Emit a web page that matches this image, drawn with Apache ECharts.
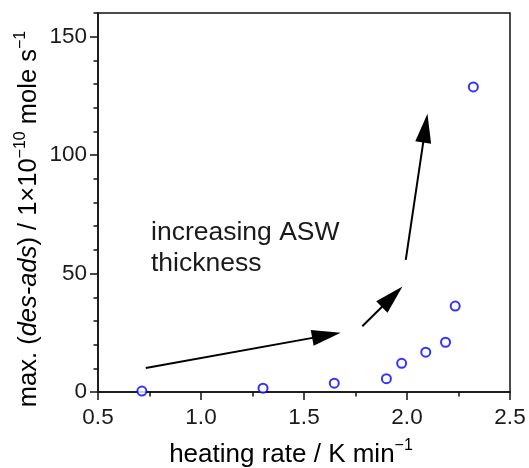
<!DOCTYPE html>
<html><head><meta charset="utf-8">
<script src="https://cdn.jsdelivr.net/npm/echarts@6/dist/echarts.min.js"></script>
<style>html,body{margin:0;padding:0;background:#fff}#c{width:529px;height:468px}</style>
</head><body><div id="c"></div>
<script>
const heatingRate = [0.713, 1.301, 1.647, 1.900, 1.974, 2.091, 2.187, 2.234, 2.322];
const maxDesAds = [0.4, 1.6, 3.7, 5.6, 12.1, 16.8, 21.0, 36.3, 128.8];
const yTicks = [0, 50, 100, 150];
const arrowStarts = [[0.732, 10.1], [1.783, 27.75], [1.994, 55.8]];
const arrowEnds = [[1.609, 23.9], [1.928, 40.2], [2.089, 111.4]];
const annotationText = 'increasing ASW\nthickness';
const xName = 'heating rate / K min';
const yNameParts = ['max. (', 'des-ads', ') / 1×10', '−10', ' mole s', '−1'];

const FF = 'Arial, "Liberation Sans", sans-serif';
const TXT = '#1a1a1a';
const chart = echarts.init(document.getElementById('c'), null, {renderer: 'canvas'});

const points = heatingRate.map((x, i) => [x, maxDesAds[i]]);
const arrows = arrowStarts.map((s, i) => [
  {coord: s},
  {coord: arrowEnds[i], symbolSize: [16, 29]}
]);

chart.setOption({
  animation: false,
  backgroundColor: '#fff',
  grid: {left: 98, top: 13, right: 19, bottom: 76, show: true, borderColor: '#111', borderWidth: 1.5,
         containLabel: false, outerBoundsMode: 'none'},
  xAxis: {
    type: 'value', min: 0.5, max: 2.5, interval: 0.5,
    axisLine: {show: true, lineStyle: {color: '#111', width: 1.5}},
    axisTick: {show: true, inside: false, length: 8, lineStyle: {color: '#111', width: 1.5}},
    minorTick: {show: true, splitNumber: 2, length: 4.5, lineStyle: {color: '#111', width: 1.5}},
    splitLine: {show: false},
    axisLabel: {fontSize: 22.5, fontFamily: FF, color: TXT, margin: 14, formatter: v => v.toFixed(1)}
  },
  yAxis: [{
    type: 'value', min: 0, max: 160, interval: 10, position: 'left',
    axisLine: {show: true, lineStyle: {color: '#111', width: 1.5}},
    axisTick: {show: true, inside: false, length: 8, customValues: yTicks, lineStyle: {color: '#111', width: 1.5}},
    splitLine: {show: false},
    axisLabel: {fontSize: 22.5, fontFamily: FF, color: TXT, margin: 11, customValues: yTicks}
  }, {
    type: 'value', min: 0, max: 160, interval: 10, position: 'left', offset: 0,
    axisLine: {show: false},
    axisTick: {show: true, inside: false, length: 4.5, lineStyle: {color: '#111', width: 1.5}},
    splitLine: {show: false},
    axisLabel: {show: false}
  }],
  series: [{
    type: 'scatter', yAxisIndex: 0, data: points,
    symbol: 'emptyCircle', symbolSize: 9,
    itemStyle: {color: '#0000ff', borderColor: '#0000ff', borderWidth: 1.8},
    emphasis: {disabled: true},
    markLine: {
      silent: true, animation: false,
      symbol: ['none', 'triangle'],
      lineStyle: {color: '#000', width: 2, type: 'solid'},
      itemStyle: {color: '#000'},
      label: {show: false},
      emphasis: {disabled: true},
      data: arrows
    }
  }],
  graphic: [
    {type: 'text', left: 151, top: 217, silent: true,
     style: {text: annotationText, font: '26.5px ' + FF, fill: TXT, lineHeight: 31}},
    {type: 'text', x: 291, y: 453, silent: true,
     style: {text: '{n|' + xName + '}{s|−1}', align: 'center', verticalAlign: 'middle',
       rich: {n: {fontSize: 26, fontFamily: FF, color: TXT, lineHeight: 30, verticalAlign: 'bottom'},
              s: {fontSize: 16, fontFamily: FF, color: TXT, verticalAlign: 'top', lineHeight: 16}}}},
    {type: 'text', x: 27, y: 219, rotation: Math.PI / 2, silent: true,
     style: {text: '{n|' + yNameParts[0] + '}{i|' + yNameParts[1] + '}{n|' + yNameParts[2] + '}{s|' + yNameParts[3] + '}{n|' + yNameParts[4] + '}{s|' + yNameParts[5] + '}',
       align: 'center', verticalAlign: 'middle',
       rich: {n: {fontSize: 25.5, fontFamily: FF, color: TXT, lineHeight: 29, verticalAlign: 'bottom'},
              i: {fontSize: 25.5, fontFamily: FF, fontStyle: 'italic', color: TXT, lineHeight: 29, verticalAlign: 'bottom'},
              s: {fontSize: 16, fontFamily: FF, color: TXT, verticalAlign: 'top', lineHeight: 16}}}}
  ]
});
</script></body></html>
